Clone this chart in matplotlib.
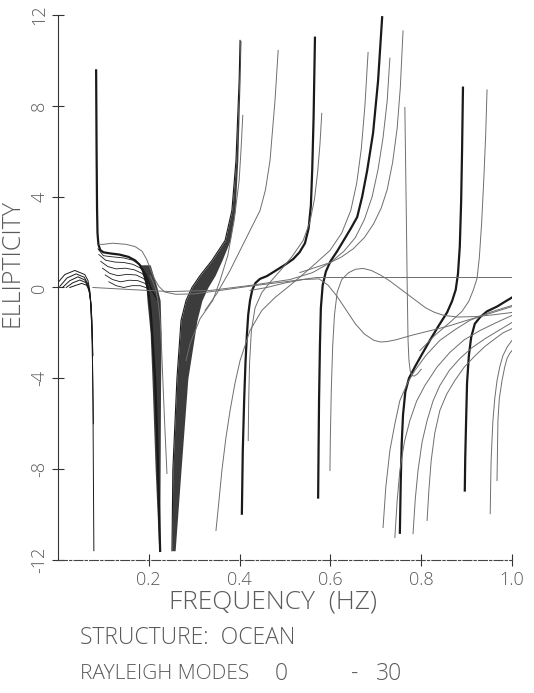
import matplotlib.pyplot as plt
import numpy as np

# ---- data (frequency in Hz, ellipticity) ----
x_ticks = [0.2, 0.4, 0.6, 0.8, 1.0]
x_tick_labels = ['0.2', '0.4', '0.6', '0.8', '1.0']
y_ticks = [-12, -8, -4, 0, 4, 8, 12]
y_tick_labels = ['-12', '-8', '-4', '0', '4', '8', '12']

# low frequency bump bundle
b1_top_f = [0.000, 0.015, 0.037, 0.059, 0.066, 0.070, 0.075, 0.077, 0.079]
b1_top_e = [0.22, 0.57, 0.75, 0.57, 0.31, -0.13, -1.45, -4.98, -11.59]
b1_b_f = [0.004, 0.020, 0.040, 0.058, 0.066, 0.071, 0.075, 0.078]
b1_b_e = [0.05, 0.42, 0.60, 0.45, 0.15, -0.40, -2.00, -6.00]
b1_c_f = [0.010, 0.026, 0.044, 0.059, 0.067, 0.072, 0.076]
b1_c_e = [0.00, 0.30, 0.47, 0.33, 0.05, -0.60, -2.50]
b1_d_f = [0.018, 0.032, 0.048, 0.061, 0.068, 0.073, 0.077]
b1_d_e = [0.00, 0.20, 0.33, 0.22, -0.05, -0.80, -3.00]
b1_e_f = [0.026, 0.040, 0.052, 0.063, 0.070, 0.074]
b1_e_e = [0.00, 0.10, 0.18, 0.10, -0.20, -1.00]

# second bundle (pole near 0.08 -> 0.22)
b2_f = [0.084, 0.085, 0.086, 0.087, 0.089, 0.093, 0.100, 0.115, 0.135, 0.155, 0.170,
        0.180, 0.188, 0.194, 0.199, 0.204, 0.209, 0.214, 0.219, 0.225]
b2_e = [9.56, 6.0, 3.5, 2.4, 1.9, 1.65, 1.55, 1.50, 1.45, 1.35, 1.19,
        1.0, 0.7, 0.3, -0.2, -1.0, -2.5, -4.1, -7.0, -11.6]
b2_band_e = [1.0, 0.0, -0.57, -2.0, -4.0, -8.0, -11.6]
b2_band_left = [0.181, 0.194, 0.196, 0.203, 0.207, 0.214, 0.222]
b2_band_right = [0.203, 0.218, 0.225, 0.227, 0.226, 0.225, 0.224]
plateau_f = [
    [0.088, 0.100, 0.120, 0.145, 0.165, 0.180, 0.190, 0.198],
    [0.090, 0.105, 0.125, 0.145, 0.165, 0.182, 0.195, 0.203],
    [0.094, 0.110, 0.128, 0.148, 0.168, 0.185, 0.198, 0.207],
    [0.098, 0.114, 0.132, 0.152, 0.172, 0.188, 0.201, 0.211],
    [0.104, 0.120, 0.138, 0.157, 0.176, 0.192, 0.205, 0.215],
    [0.112, 0.128, 0.145, 0.163, 0.181, 0.196, 0.209, 0.218],
]
plateau_e = [
    [1.70, 1.40, 1.35, 1.30, 1.20, 1.00, 0.70, 0.30],
    [1.45, 1.20, 1.12, 1.10, 1.02, 0.85, 0.55, 0.10],
    [1.15, 0.92, 0.82, 0.85, 0.78, 0.62, 0.35, -0.10],
    [0.85, 0.62, 0.52, 0.58, 0.55, 0.40, 0.15, -0.25],
    [0.55, 0.35, 0.25, 0.32, 0.30, 0.18, -0.05, -0.40],
    [0.25, 0.08, 0.00, 0.08, 0.08, -0.02, -0.20, -0.55],
]

# third bundle (0.25 -> 0.40)
b3_e = [-11.59, -8.02, -4.01, -1.45, -0.57, 0.00, 0.53, 1.19, 2.07, 3.39, 5.59, 9.12, 10.88]
b3_left = [0.251, 0.253, 0.262, 0.271, 0.282, 0.295, 0.313, 0.339, 0.368, 0.383, 0.392, 0.399, 0.401]
b3_right = [0.258, 0.271, 0.286, 0.306, 0.317, 0.330, 0.346, 0.361, 0.379, 0.390, 0.396, 0.401, 0.403]

# single dark branches
b4_f = [0.405, 0.407, 0.410, 0.413, 0.416, 0.419, 0.423, 0.428, 0.435, 0.445, 0.460,
        0.480, 0.500, 0.518, 0.532, 0.544, 0.552, 0.557, 0.560, 0.563, 0.566]
b4_e = [-9.96, -7.2, -5.0, -3.3, -2.1, -1.2, -0.57, -0.1, 0.2, 0.38, 0.5,
        0.75, 1.0, 1.25, 1.55, 1.95, 2.6, 3.6, 5.2, 7.5, 11.0]
b5_f = [0.573, 0.574, 0.575, 0.577, 0.579, 0.583, 0.590, 0.600, 0.615, 0.630, 0.645,
        0.659, 0.670, 0.681, 0.694, 0.705, 0.714]
b5_e = [-9.25, -7.0, -4.98, -2.5, -0.9, 0.1, 0.7, 1.15, 1.6, 2.1, 2.6,
        3.1, 4.0, 5.15, 6.8, 9.1, 11.9]
b6_f = [0.753, 0.755, 0.757, 0.760, 0.765, 0.773, 0.786, 0.800, 0.819, 0.838, 0.857,
        0.868, 0.876, 0.881, 0.885, 0.888, 0.890, 0.892]
b6_e = [-10.8, -8.5, -6.9, -5.6, -4.6, -4.0, -3.5, -3.0, -2.33, -1.7, -1.1,
        -0.6, -0.1, 0.6, 1.8, 3.8, 6.0, 8.8]
b7_f = [0.896, 0.897, 0.899, 0.901, 0.905, 0.910, 0.918, 0.930, 0.945, 0.967, 0.985, 1.000]
b7_e = [-8.94, -7.5, -5.8, -4.2, -3.0, -2.2, -1.6, -1.3, -1.05, -0.84, -0.62, -0.44]

# thin branches
t1_f = [0.090, 0.100, 0.120, 0.150, 0.170, 0.185, 0.195, 0.203, 0.212, 0.222, 0.235,
        0.260, 0.300, 0.350, 0.420, 0.500, 0.570, 1.000]
t1_e = [1.9, 1.9, 1.95, 1.9, 1.8, 1.6, 1.25, 0.85, 0.4, 0.05, -0.2,
        -0.3, -0.28, -0.15, 0.05, 0.25, 0.44, 0.44]
t2_f = [0.077, 0.159, 0.247, 0.335, 0.423, 0.511, 0.560, 0.600, 0.630, 0.655, 0.675,
        0.692, 0.705, 0.716, 0.725, 0.731]
t2_e = [0.0, -0.09, -0.18, -0.13, 0.09, 0.35, 0.65, 1.1, 1.6, 2.2, 3.0,
        4.0, 5.2, 6.6, 8.2, 10.1]
w1_f = [0.423, 0.460, 0.500, 0.540, 0.575, 0.595, 0.615, 0.635, 0.655, 0.675, 0.695,
        0.710, 0.725, 0.745, 0.780, 0.820, 0.860, 0.900, 0.950, 1.000]
w1_e = [-0.13, 0.0, 0.2, 0.35, 0.38, 0.1, -0.4, -1.0, -1.6, -2.05, -2.32,
        -2.4, -2.38, -2.3, -2.1, -1.9, -1.7, -1.45, -1.15, -0.84]
w2_f = [0.599, 0.600, 0.602, 0.605, 0.609, 0.615, 0.625, 0.640, 0.655, 0.672, 0.690,
        0.710, 0.730, 0.750, 0.770, 0.790, 0.810, 0.830, 0.850, 0.880, 0.920, 0.960, 1.000]
w2_e = [-8.06, -6.5, -4.5, -2.6, -1.2, -0.2, 0.35, 0.65, 0.8, 0.84, 0.75,
        0.55, 0.3, 0.0, -0.3, -0.6, -0.9, -1.1, -1.23, -1.3, -1.28, -1.2, -1.1]
v1_f = [0.764, 0.766, 0.768, 0.769, 0.770, 0.771, 0.773, 0.776, 0.780, 0.785, 0.792, 0.800]
v1_e = [7.93, 5.0, 2.0, 0.3, -1.0, -2.3, -3.2, -3.7, -3.88, -3.9, -3.8, -3.6]
u0_f = [0.282, 0.291, 0.313, 0.341, 0.357, 0.374, 0.388, 0.399, 0.403, 0.407]
u0_e = [-3.22, -2.47, -1.37, -0.57, 0.31, 1.41, 2.95, 4.71, 6.0, 7.58]
u1_f = [0.324, 0.350, 0.379, 0.412, 0.445, 0.457, 0.467, 0.478, 0.485]
u1_e = [-1.01, -0.26, 0.75, 2.07, 3.39, 4.3, 5.59, 8.24, 10.44]
u2_f = [0.419, 0.420, 0.422, 0.426, 0.434, 0.449, 0.470, 0.490, 0.515, 0.540, 0.555,
        0.565, 0.572, 0.577, 0.581]
u2_e = [-6.74, -5.0, -3.3, -1.9, -0.9, -0.22, 0.3, 0.75, 1.35, 2.07, 2.9,
        3.9, 5.1, 6.3, 7.67]
u3_f = [0.348, 0.355, 0.361, 0.370, 0.379, 0.390, 0.401, 0.423, 0.449, 0.478, 0.511,
        0.555, 0.599, 0.625, 0.645, 0.658, 0.668, 0.676, 0.683]
u3_e = [-10.7, -9.3, -8.06, -6.6, -5.42, -4.2, -3.22, -1.89, -1.01, -0.44, 0.09,
        0.84, 1.63, 2.4, 3.4, 4.6, 6.1, 8.0, 10.35]
u6_f = [0.533, 0.570, 0.600, 0.625, 0.650, 0.675, 0.695, 0.712, 0.725, 0.737, 0.747, 0.754, 0.760]
u6_e = [0.66, 0.9, 1.1, 1.35, 1.7, 2.2, 2.8, 3.5, 4.3, 5.5, 7.0, 8.8, 11.3]
u7_f = [0.797, 0.830, 0.863, 0.890, 0.905, 0.915, 0.923, 0.928, 0.933, 0.938, 0.942, 0.945]
u7_e = [-2.78, -2.11, -1.54, -1.05, -0.6, -0.1, 0.4, 1.3, 2.8, 4.8, 6.7, 8.7]
s2_f = [0.203, 0.210, 0.216, 0.221, 0.225, 0.228, 0.231, 0.235, 0.240]
s2_e = [0.53, 0.2, -0.13, -0.7, -1.45, -2.6, -4.10, -6.0, -8.19]

# fan of curves at the high frequency end
fan_f = [
    [0.716, 0.722, 0.731, 0.742, 0.753, 0.770, 0.786, 0.810, 0.841, 0.875, 0.907, 0.950, 1.000],
    [0.742, 0.747, 0.753, 0.763, 0.775, 0.790, 0.808, 0.835, 0.863, 0.895, 0.930, 0.965, 1.000],
    [0.782, 0.787, 0.793, 0.802, 0.813, 0.826, 0.841, 0.862, 0.885, 0.912, 0.941, 0.970, 1.000],
    [0.813, 0.817, 0.822, 0.830, 0.841, 0.856, 0.874, 0.895, 0.919, 0.940, 0.963, 0.980, 1.000],
    [0.952, 0.953, 0.954, 0.956, 0.958, 0.962, 0.967, 0.973, 0.980, 0.990, 1.000],
    [0.967, 0.968, 0.969, 0.972, 0.978, 0.984, 0.989, 0.995, 1.000],
]
fan_e = [
    [-10.57, -8.8, -7.18, -6.0, -4.98, -4.2, -3.66, -3.0, -2.33, -1.85, -1.45, -1.1, -0.79],
    [-11.01, -9.4, -8.06, -6.8, -5.86, -5.0, -4.32, -3.5, -2.86, -2.3, -1.89, -1.55, -1.23],
    [-10.84, -9.3, -8.06, -6.8, -5.86, -5.0, -4.32, -3.65, -3.13, -2.65, -2.25, -1.9, -1.54],
    [-10.26, -8.9, -7.62, -6.4, -5.42, -4.7, -4.10, -3.5, -3.0, -2.6, -2.25, -2.0, -1.81],
    [-9.96, -8.7, -7.62, -6.7, -5.86, -4.9, -4.10, -3.5, -3.0, -2.6, -2.33],
    [-8.5, -7.2, -5.86, -4.9, -4.10, -3.5, -3.13, -2.9, -2.78],
]

plt.rcParams['font.family'] = ['Open Sans', 'DejaVu Sans']
txt_color = '#5a5a5a'
dark = '#1a1a1a'
thin = '#6e6e6e'

fig = plt.figure(figsize=(5.34, 6.93), dpi=100)
ax = fig.add_axes([0.1086, 0.1919, 0.8502, 0.7865])

# dark bundles
for f, e in [(b1_top_f, b1_top_e), (b1_b_f, b1_b_e), (b1_c_f, b1_c_e),
             (b1_d_f, b1_d_e), (b1_e_f, b1_e_e)]:
    ax.plot(f, e, color=dark, lw=0.7)
ax.plot(b2_f, b2_e, color=dark, lw=1.6)
for f, e in zip(plateau_f, plateau_e):
    ax.plot(f, e, color=dark, lw=0.6)
ax.fill_betweenx(b2_band_e, b2_band_left, b2_band_right, color=dark, alpha=0.85, lw=0)
ax.fill_betweenx(b3_e, b3_left, b3_right, color=dark, alpha=0.85, lw=0)
ax.plot(b3_left, b3_e, color=dark, lw=0.8)

for f, e in [(b4_f, b4_e), (b5_f, b5_e), (b6_f, b6_e), (b7_f, b7_e)]:
    ax.plot(f, e, color=dark, lw=1.6)

# thin branches
for f, e in [(t1_f, t1_e), (t2_f, t2_e), (w1_f, w1_e), (w2_f, w2_e),
             (v1_f, v1_e), (u0_f, u0_e), (u1_f, u1_e), (u2_f, u2_e),
             (u3_f, u3_e), (u6_f, u6_e), (u7_f, u7_e), (s2_f, s2_e)]:
    ax.plot(f, e, color=thin, lw=0.7)
for f, e in zip(fan_f, fan_e):
    ax.plot(f, e, color=thin, lw=0.7)

ax.set_xlim(0, 1.0)
ax.set_ylim(-12, 12)
ax.spines['top'].set_visible(False)
ax.spines['right'].set_visible(False)
ax.spines['left'].set_color('#333333')
ax.spines['bottom'].set_color('#444444')
ax.spines['bottom'].set_linestyle((0, (8, 2, 2, 2)))

ax.set_xticks(x_ticks)
ax.set_xticklabels(x_tick_labels)
ax.set_yticks(y_ticks)
ax.set_yticklabels(y_tick_labels, rotation=90, va='center')
ax.tick_params(direction='inout', length=8, width=0.8, colors='#333333',
               labelcolor=txt_color, labelsize=13)
ax.tick_params(axis='x', pad=4)
ax.tick_params(axis='y', pad=3)
for lab in ax.get_xticklabels() + ax.get_yticklabels():
    lab.set_fontweight('light')

fig.text(0.0225, 0.620, 'ELLIPTICITY', rotation=90, ha='center', va='center',
         fontsize=18, color=txt_color, fontweight='light')
fig.text(0.511, 0.131, 'FREQUENCY  (HZ)', ha='center', va='center',
         fontsize=19, color=txt_color, fontweight='light')
fig.text(0.150, 0.079, 'STRUCTURE:  OCEAN', ha='left', va='center',
         fontsize=16.5, color=txt_color, fontweight='light')
fig.text(0.150, 0.027, 'RAYLEIGH MODES', ha='left', va='center',
         fontsize=15, color=txt_color, fontweight='light')
fig.text(0.526, 0.027, '0', ha='center', va='center',
         fontsize=16.5, color=txt_color, fontweight='light')
fig.text(0.665, 0.027, '-', ha='center', va='center',
         fontsize=16.5, color=txt_color, fontweight='light')
fig.text(0.728, 0.027, '30', ha='center', va='center',
         fontsize=16.5, color=txt_color, fontweight='light')

plt.savefig('out.png', dpi=100)
